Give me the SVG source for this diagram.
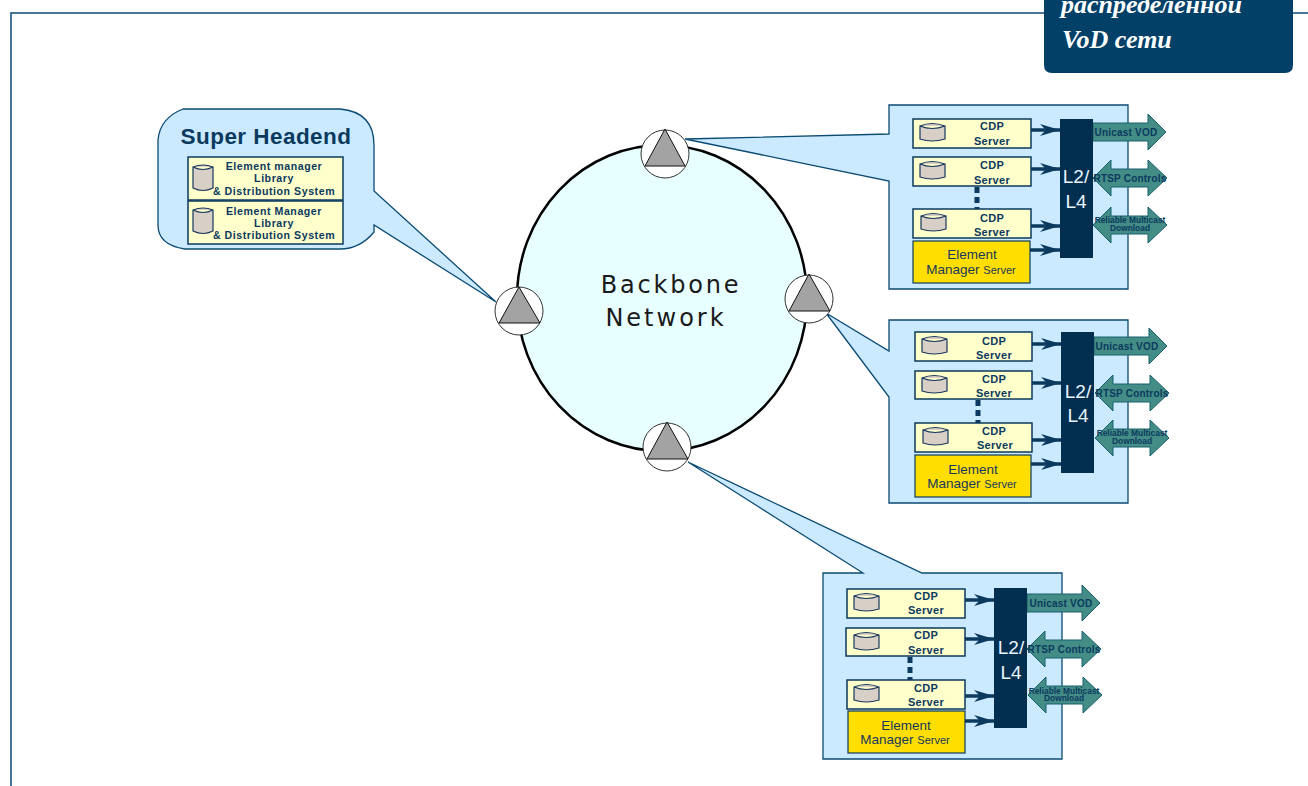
<svg xmlns="http://www.w3.org/2000/svg" width="1308" height="786" viewBox="0 0 1308 786">
<style>
text{font-family:"Liberation Sans",Arial,sans-serif;fill:#0b3a5e;text-anchor:middle}
.blk{fill:#cbeaff;stroke:#0b4a73;stroke-width:1.3}
.srv{fill:#ffffcc;stroke:#0b3a5e;stroke-width:1.5}
.em{fill:#ffde00;stroke:#0b3a5e;stroke-width:1.2}
.sw{fill:#022f50}
.cdp{font-size:11px;font-weight:bold;letter-spacing:.3px}
.el{font-size:13.5px;fill:#17375e}
.el tspan{font-size:11px}
.l2{font-size:19px;fill:#e8f4ff}
.arr{fill:#448c86;stroke:#17606e;stroke-width:1}
.lab{font-size:10px;font-weight:bold;letter-spacing:.2px}
.rel{font-size:8.4px;font-weight:bold}
.con{stroke:#0b3a5e;stroke-width:3.5;fill:none;marker-end:url(#h)}
.dots{stroke:#0b3a5e;stroke-width:5;stroke-dasharray:6 4;fill:none}
.cyl{fill:#d8d0c6;stroke:#17375e;stroke-width:1.2}
.ring{fill:#fff;stroke:#333;stroke-width:1}
.tri{fill:#a3a3a3;stroke:#111;stroke-width:1}
.she{font-size:10.6px;font-weight:bold;letter-spacing:.55px}
.ttl{font-family:"Liberation Serif",serif;font-size:26px;font-weight:bold;font-style:italic;fill:#fff;text-anchor:start}
.bb{font-family:"DejaVu Sans",sans-serif;font-size:24px;fill:#1a1a1a}
</style>
<defs>
<marker id="h" markerUnits="userSpaceOnUse" markerWidth="22" markerHeight="14" refX="20" refY="7" orient="auto"><path d="M0 1 L20 7 L0 13 L6 7 Z" fill="#0b3a5e"/></marker>
<path id="cy" class="cyl" d="M1 4 Q13 -1 26 4 V17 Q13 21 1 17 Z M1 4 Q13 9 26 4"/>
<path id="cyt" class="cyl" d="M1 3 Q11 -1 21 3 V24 Q11 29 1 24 Z M1 3 Q11 8 21 3"/>
<path id="uni" class="arr" d="M0 -9 H55 V-18 L73 0 L55 18 V9 H0 Z"/>
<path id="dbl" class="arr" d="M0 0 L18 -18 V-9 H55 V-18 L74 0 L55 18 V9 H18 V18 Z"/>
</defs>

<path id="frame" d="M1308 13 H11 V786" fill="none" stroke="#0b4a73" stroke-width="1.5"/>

<g id="title">
<path d="M1044 -20 H1293 V65 Q1293 73 1285 73 H1052 Q1044 73 1044 65 Z" fill="#034068"/>
<text class="ttl" x="1061" y="13">распределенной</text>
<text class="ttl" x="1062" y="48">VoD сети</text>
</g>

<g id="super-headend">
<path class="blk" d="M183 109 H340 Q374 112 374 145 V191 L496 302 L374 225 V232 Q360 249 340 249 H185 Q158 245 158 225 V140 Q160 118 183 109 Z"/>
<text x="266" y="144" style="font-size:22.5px;font-weight:bold;letter-spacing:.45px">Super Headend</text>
<rect class="srv" x="188" y="157" width="155" height="43"/>
<rect class="srv" x="188" y="201" width="155" height="43"/>
<use href="#cyt" x="192" y="164"/>
<use href="#cyt" x="192" y="207"/>
<text class="she" x="274" y="170">Element manager</text>
<text class="she" x="274" y="182">Library</text>
<text class="she" x="274" y="195">&amp; Distribution System</text>
<text class="she" x="274" y="215">Element Manager</text>
<text class="she" x="274" y="227">Library</text>
<text class="she" x="274" y="239">&amp; Distribution System</text>
</g>

<g id="headend-1">
<path class="blk" d="M889 105 H1128 V289 H889 V181 L685 139 L889 134 Z"/>
<rect class="srv" x="913" y="119" width="118" height="29"/><use href="#cy" x="919" y="122"/>
<rect class="srv" x="913" y="157" width="118" height="29"/><use href="#cy" x="919" y="160"/>
<rect class="srv" x="913" y="209" width="118" height="29"/><use href="#cy" x="920" y="212"/>
<rect class="em" x="913" y="241" width="117" height="42"/>
<use href="#uni" x="1093" y="132"/><use href="#dbl" x="1093" y="178"/><use href="#dbl" x="1093" y="225"/>
<rect class="sw" x="1060" y="119" width="33" height="139"/>
<text class="cdp" x="992" y="130">CDP</text><text class="cdp" x="992" y="145">Server</text>
<text class="cdp" x="992" y="169">CDP</text><text class="cdp" x="992" y="184">Server</text>
<text class="cdp" x="992" y="222">CDP</text><text class="cdp" x="992" y="236">Server</text>
<text class="el" x="972" y="259">Element</text><text class="el" x="971" y="274">Manager <tspan>Server</tspan></text>
<text class="l2" x="1076" y="183">L2/</text><text class="l2" x="1076" y="208">L4</text>
<text class="lab" x="1126" y="136">Unicast VOD</text>
<text class="lab" x="1130" y="182">RTSP Controls</text>
<text class="rel" x="1130" y="223">Reliable Multicast</text><text class="rel" x="1130" y="231">Download</text>
</g>

<g id="headend-2">
<path class="blk" d="M889 320 H1128 V503 H889 V397 L826 313 L889 351 Z"/>
<rect class="srv" x="915" y="332" width="117" height="29"/><use href="#cy" x="921" y="335"/>
<rect class="srv" x="915" y="371" width="117" height="28"/><use href="#cy" x="921" y="374"/>
<rect class="srv" x="915" y="423" width="117" height="29"/><use href="#cy" x="922" y="426"/>
<rect class="em" x="915" y="455" width="116" height="42"/>
<use href="#uni" x="1094" y="346"/><use href="#dbl" x="1095" y="393"/><use href="#dbl" x="1095" y="438"/>
<rect class="sw" x="1061" y="332" width="33" height="141"/>
<text class="cdp" x="994" y="345">CDP</text><text class="cdp" x="994" y="359">Server</text>
<text class="cdp" x="994" y="383">CDP</text><text class="cdp" x="994" y="397">Server</text>
<text class="cdp" x="994" y="435">CDP</text><text class="cdp" x="995" y="449">Server</text>
<text class="el" x="973" y="474">Element</text><text class="el" x="972" y="488">Manager <tspan>Server</tspan></text>
<text class="l2" x="1078" y="398">L2/</text><text class="l2" x="1078" y="422">L4</text>
<text class="lab" x="1127" y="350">Unicast VOD</text>
<text class="lab" x="1132" y="397">RTSP Controls</text>
<text class="rel" x="1132" y="436">Reliable Multicast</text><text class="rel" x="1132" y="444">Download</text>
</g>

<g id="headend-3">
<path class="blk" d="M823 573 H863 L688 462 L922 573 H1062 V759 H823 Z"/>
<rect class="srv" x="847" y="589" width="118" height="29"/><use href="#cy" x="853" y="592"/>
<rect class="srv" x="846" y="628" width="119" height="28"/><use href="#cy" x="853" y="631"/>
<rect class="srv" x="847" y="680" width="118" height="29"/><use href="#cy" x="853" y="683"/>
<rect class="em" x="848" y="711" width="117" height="42"/>
<use href="#uni" x="1027" y="603"/><use href="#dbl" x="1027" y="649"/><use href="#dbl" x="1028" y="695"/>
<rect class="sw" x="994" y="588" width="33" height="140"/>
<text class="cdp" x="926" y="600">CDP</text><text class="cdp" x="926" y="614">Server</text>
<text class="cdp" x="926" y="639">CDP</text><text class="cdp" x="926" y="654">Server</text>
<text class="cdp" x="926" y="692">CDP</text><text class="cdp" x="926" y="706">Server</text>
<text class="el" x="906" y="730">Element</text><text class="el" x="905" y="744">Manager <tspan>Server</tspan></text>
<text class="l2" x="1011" y="654">L2/</text><text class="l2" x="1011" y="679">L4</text>
<text class="lab" x="1061" y="607">Unicast VOD</text>
<text class="lab" x="1064" y="653">RTSP Controls</text>
<text class="rel" x="1064" y="694">Reliable Multicast</text><text class="rel" x="1064" y="701">Download</text>
</g>

<g id="backbone">
<ellipse cx="662" cy="298" rx="145" ry="153" fill="#e8ffff" stroke="#000" stroke-width="2.5"/>
<text class="bb" x="671" y="293" letter-spacing="2.8">Backbone</text>
<text class="bb" x="666" y="326" letter-spacing="3">Network</text>
</g>

<g id="node-top"><circle class="ring" cx="665" cy="154" r="24"/><path class="tri" d="M665 129 L645 166 H685 Z"/></g>
<g id="node-left"><circle class="ring" cx="519" cy="311" r="24"/><path class="tri" d="M519 287 L499 323 H540 Z"/></g>
<g id="node-right"><circle class="ring" cx="809" cy="299" r="24"/><path class="tri" d="M809 274 L789 311 H830 Z"/></g>
<g id="node-bottom"><circle class="ring" cx="667" cy="447" r="24"/><path class="tri" d="M667 422 L647 459 H688 Z"/></g>

<g id="connectors">
<path class="con" d="M1031 130 H1060"/><path class="con" d="M1031 169 H1060"/><path class="con" d="M1031 226 H1060"/><path class="con" d="M1030 250 H1060"/>
<path class="dots" d="M977 187 V209"/>
<path class="con" d="M1032 344 H1061"/><path class="con" d="M1032 383 H1061"/><path class="con" d="M1032 440 H1061"/><path class="con" d="M1031 464 H1061"/>
<path class="dots" d="M978 400 V423"/>
<path class="con" d="M965 600 H994"/><path class="con" d="M965 639 H994"/><path class="con" d="M965 696 H994"/><path class="con" d="M965 721 H994"/>
<path class="dots" d="M910 657 V680"/>
</g>
</svg>
